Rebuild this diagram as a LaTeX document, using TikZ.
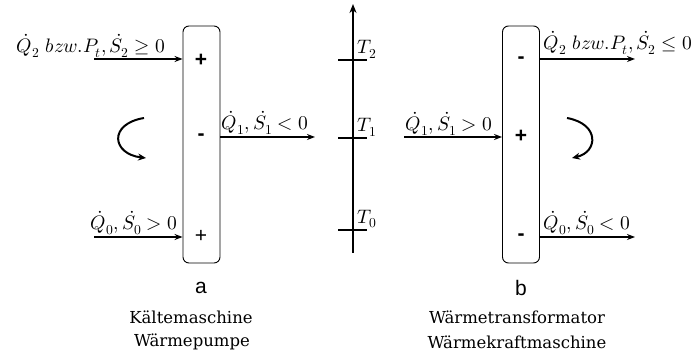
\documentclass[tikz,border=0pt]{standalone}
\usepackage{fontspec}
\usepackage{unicode-math}
\setmathfont{latinmodern-math.otf}
\newfontfamily\sansf{Liberation Sans}
\newfontfamily\capf{DejaVu Serif}
\usetikzlibrary{arrows.meta}
\begin{document}
\begin{tikzpicture}[x=1pt,y=-1pt,
  lbl/.style={inner sep=0pt,font=\fontsize{19.5}{22}\selectfont},
  sgn/.style={inner sep=0pt,font=\sansf\bfseries\fontsize{21}{24}\selectfont},
  sgnl/.style={inner sep=0pt,font=\sansf\fontsize{21}{24}\selectfont},
  letterlbl/.style={inner sep=0pt,font=\sansf\fontsize{21}{24}\selectfont},
  captxt/.style={inner sep=0pt,font=\capf\fontsize{16.5}{20}\selectfont,align=center},
  machine/.style={draw,line width=0.9pt,rounded corners=6pt,minimum width=37pt,minimum height=237pt,inner sep=0pt},
  flow/.style={line width=1.3pt,-{Stealth[length=8pt,width=6pt]}},
  turn/.style={line width=2pt,-{Stealth[length=8pt,width=7pt]}},
  tickln/.style={line width=1.8pt}]
\useasboundingbox (0,0) rectangle (697,352);
% machine a
\node[machine] (boxa) at (201.5,144.5) {};
\node[sgn] (pa1) at (201,60) {+};
\node[sgn] (ma1) at (201,137) {-};
\node[sgnl] (pa2) at (201,236) {+};
\coordinate (a2) at (94,59);
\coordinate (a0) at (94,237);
\coordinate (a1) at (315,137);
\draw[flow] (a2) -- (a2 -| boxa.west);
\draw[flow] (a0) -- (a0 -| boxa.west);
\draw[flow] (a1 -| boxa.east) -- (a1);
\node[lbl] (la2) at (91,46) {$\dot{Q}_2\ bzw.P_t,\dot{S}_2\geq 0$};
\node[lbl] (la1) at (265,123) {$\dot{Q}_1,\dot{S}_1<0$};
\node[lbl] (la0) at (134,223) {$\dot{Q}_0,\dot{S}_0>0$};
\coordinate (ca1) at (144,118);
\coordinate (ca2) at (146,158);
\draw[turn] (ca1) .. controls (108,124) and (112,154) .. (ca2);
\node[letterlbl] (na) at (201,288) {a};
\node[captxt] (ta) at (191,317) {Kältemaschine};
\node[captxt] (ta2) at (192,342) {Wärmepumpe};
% temperature axis
\coordinate (axb) at (353,253);
\coordinate (axt) at (353,4);
\draw[line width=2.4pt,-{Stealth[length=9pt,width=7pt]}] (axb) -- (axt);
\coordinate (t2) at (353,60);
\coordinate (t1) at (353,138);
\coordinate (t0) at (353,230);
\draw[tickln] ([xshift=-15pt]t2) -- ([xshift=14pt]t2);
\draw[tickln] ([xshift=-15pt]t1) -- ([xshift=14pt]t1);
\draw[tickln] ([xshift=-15pt]t0) -- ([xshift=14pt]t0);
\node[lbl] (lt2) at (367,49) {$T_2$};
\node[lbl] (lt1) at (367,127) {$T_1$};
\node[lbl] (lt0) at (367,219) {$T_0$};
% machine b
\node[machine] (boxb) at (521,144.5) {};
\node[sgn] (mb1) at (521,60) {-};
\node[sgn] (pb1) at (521,136) {+};
\node[sgn] (mb2) at (521,237) {-};
\coordinate (b2) at (635,59);
\coordinate (b0) at (635,237);
\coordinate (b1) at (404,137);
\draw[flow] (b2 -| boxb.east) -- (b2);
\draw[flow] (b0 -| boxb.east) -- (b0);
\draw[flow] (b1) -- (b1 -| boxb.west);
\node[lbl] (lb2) at (618,43) {$\dot{Q}_2\ bzw.P_t,\dot{S}_2\leq 0$};
\node[lbl] (lb1) at (449,124) {$\dot{Q}_1,\dot{S}_1>0$};
\node[lbl] (lb0) at (587,223) {$\dot{Q}_0,\dot{S}_0<0$};
\coordinate (cb1) at (567,118);
\coordinate (cb2) at (572,158);
\draw[turn] (cb1) .. controls (600,124) and (598,152) .. (cb2);
\node[letterlbl] (nb) at (521,288) {b};
\node[captxt] (tb) at (517,317) {Wärmetransformator};
\node[captxt] (tb2) at (517,342) {Wärmekraftmaschine};
\end{tikzpicture}
\end{document}
